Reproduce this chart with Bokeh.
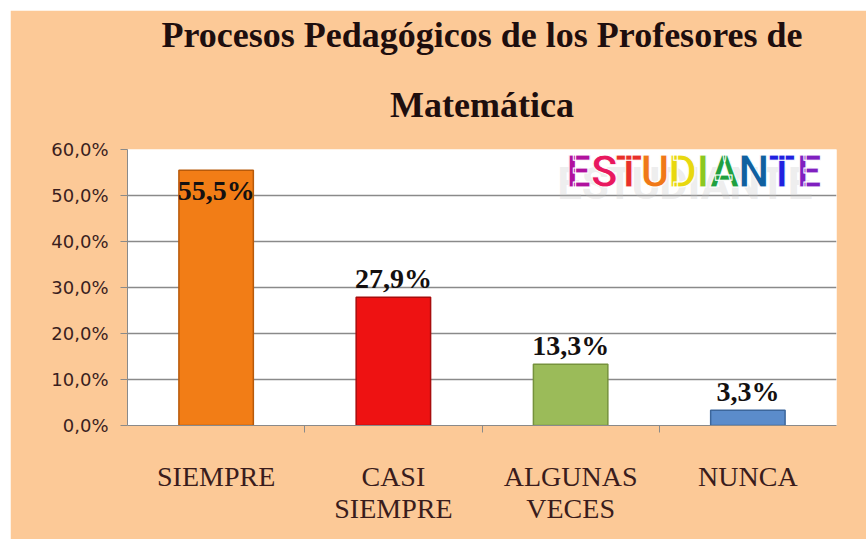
import numpy as np
from bokeh.plotting import figure
from bokeh.models import ColumnDataSource, FixedTicker, Title
from bokeh.core.properties import value
from bokeh.embed import file_html
from bokeh.resources import INLINE

# ---- data ----
categories = ["SIEMPRE", "CASI\nSIEMPRE", "ALGUNAS\nVECES", "NUNCA"]
values = [0.555, 0.279, 0.133, 0.033]
value_labels = ["55,5%", "27,9%", "13,3%", "3,3%"]
bar_colors = ["#F27D16", "#EE1212", "#9BBB59", "#5B8CCB"]
bar_edges = ["#B85A0A", "#A80C0C", "#76923C", "#3C669B"]
y_ticks = [0.0, 0.1, 0.2, 0.3, 0.4, 0.5, 0.6]
y_tick_labels = ["0,0%", "10,0%", "20,0%", "30,0%", "40,0%", "50,0%", "60,0%"]
title_lines = ["Procesos Pedagógicos de los Profesores de", "Matemática"]
badge_letters = list("ESTUDIANTE")
badge_colors = ["#B0129E", "#E8185E", "#E8302A", "#F07818", "#E8D810",
                "#8CC820", "#20A040", "#1060A0", "#2020E0", "#8020C0"]
badge_advances = [26, 24, 24, 27, 27, 13, 29, 28, 27, 26]  # relative letter widths

n = len(categories)
centers = np.arange(n) + 0.5
ymax = y_ticks[-1]

p = figure(width=856, height=529, x_range=(0, n), y_range=(0, ymax),
           output_backend="svg", toolbar_location=None,
           min_border_left=117, min_border_right=30,
           min_border_top=100, min_border_bottom=114)
p.margin = (10, 0, 0, 10)
p.background_fill_color = "white"
p.border_fill_color = "#FCC997"
p.outline_line_color = None

# titles (first one on top)
tstyle = dict(text_font="Liberation Serif", text_font_size="36px",
              text_font_style="bold", text_color="#1E0E0E", text_line_height=0.9)
p.title.text = title_lines[0]
p.title.align = "center"
p.title.standoff = 5
for k, v in tstyle.items():
    setattr(p.title, k, v)
p.add_layout(Title(text=title_lines[1], align="center", standoff=50, **tstyle), "above")

# grid
p.xgrid.visible = False
p.ygrid.ticker = FixedTicker(ticks=y_ticks[1:-1])
p.ygrid.grid_line_color = "#8A8A8A"
p.ygrid.grid_line_width = 1.3

# y axis
p.yaxis.ticker = FixedTicker(ticks=y_ticks)
p.yaxis.major_label_overrides = {t: l for t, l in zip(y_ticks, y_tick_labels)}
p.yaxis.major_label_text_font = "DejaVu Sans"
p.yaxis.major_label_text_font_size = "18px"
p.yaxis.major_label_text_color = "#3B1E1E"
p.yaxis.axis_line_color = "#8A8A8A"
p.yaxis.major_tick_line_color = "#8A8A8A"
p.yaxis.major_tick_out = 7
p.yaxis.major_tick_in = 0
p.yaxis.minor_tick_line_color = None
p.yaxis.major_label_standoff = 12

# x axis
p.xaxis.ticker = FixedTicker(ticks=list(centers), minor_ticks=list(range(1, n)))
p.xaxis.major_label_overrides = {float(c): l for c, l in zip(centers, categories)}
p.xaxis.major_label_text_font = "Liberation Serif"
p.xaxis.major_label_text_font_size = "28px"
p.xaxis.major_label_text_color = "#3A1C1C"
p.xaxis.major_label_text_line_height = 1.05
p.xaxis.axis_line_color = "#8A8A8A"
p.xaxis.major_tick_line_color = None
p.xaxis.major_tick_out = 0
p.xaxis.major_tick_in = 0
p.xaxis.minor_tick_line_color = "#8A8A8A"
p.xaxis.minor_tick_out = 7
p.xaxis.minor_tick_in = 0
p.xaxis.major_label_standoff = 28

# bars
src = ColumnDataSource(dict(x=centers, top=values, color=bar_colors, edge=bar_edges,
                            lab=value_labels,
                            off=[20 if v > ymax - 0.1 else -19 for v in values]))
p.vbar(x="x", top="top", width=0.42, bottom=0, fill_color="color",
       line_color="edge", line_width=1.5, source=src)

# value labels
p.text(x="x", y="top", text="lab", y_offset="off", source=src,
       text_align="center", text_baseline="alphabetic",
       text_font=value("Liberation Serif"), text_font_size="28px",
       text_font_style="bold", text_color="#141010")

# badge "ESTUDIANTE" (letters spread proportionally over the upper-right corner)
adv = np.array(badge_advances, dtype=float)
span = 3.92 - 2.47
bx = 2.47 + span * (np.cumsum(adv) - adv / 2) / adv.sum()
by = np.full(len(badge_letters), 0.552)
bsrc = ColumnDataSource(dict(x=bx, y=by, t=badge_letters, c=badge_colors))
p.text(x="x", y="y", text="t", source=bsrc, x_offset=-9, y_offset=12,
       text_align="center", text_baseline="middle",
       text_font=value("Roboto"), text_font_size="44px",
       text_font_style="bold", text_color="#C4C4C4", text_alpha=0.3)
p.text(x="x", y="y", text="t", source=bsrc, text_color="c",
       text_align="center", text_baseline="middle",
       text_font=value("Roboto"), text_font_size="44px",
       text_font_style="bold", text_outline_color="white")

open("out.html", "w").write(file_html(p, INLINE))
